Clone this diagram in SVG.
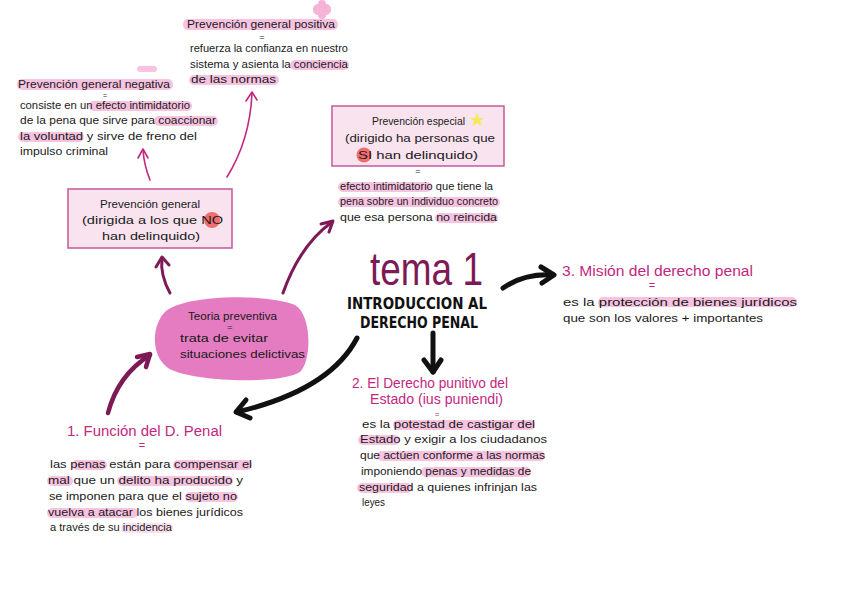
<svg xmlns="http://www.w3.org/2000/svg" width="848" height="599" viewBox="0 0 848 599">
<defs>
<style>
.t{font-family:"Liberation Sans",Arial,sans-serif;font-size:11px;fill:#1a1a1a;}
.h{font-family:"Liberation Sans",Arial,sans-serif;font-size:14px;fill:#c2287e;}
.eq{font-family:"Liberation Sans",Arial,sans-serif;font-size:9px;fill:#1a1a1a;text-anchor:middle;}
.eqm{font-family:"Liberation Sans",Arial,sans-serif;font-size:11px;fill:#c2287e;text-anchor:middle;}
.hl{fill:#f8c3e1;}
.box{fill:#f8e3ee;stroke:#c35a9b;stroke-width:1.5;}
.thin{fill:none;stroke:#c2287e;stroke-width:1.6;stroke-linecap:round;stroke-linejoin:round;}
.dark{fill:none;stroke:#7d1a55;stroke-width:3;stroke-linecap:round;stroke-linejoin:round;}
.darkb{fill:none;stroke:#7d1a55;stroke-width:4.5;stroke-linecap:round;stroke-linejoin:round;}
.blk{fill:none;stroke:#111;stroke-width:5;stroke-linecap:round;stroke-linejoin:round;}
</style>
</defs>
<rect width="848" height="599" fill="#ffffff"/>

<g id="connectors">
<path class="thin" d="M150,180 Q144,165 143,150"/>
<path class="thin" d="M138,158 L143,149 L148,158"/>
<path class="thin" d="M227,177 Q250,140 252,93"/>
<path class="thin" d="M246,101 L252,92 L257,100"/>
<path class="dark" d="M170,293 Q160,275 162,258"/>
<path class="dark" d="M156,267 L162,257 L169,265"/>
<path class="dark" d="M283,293 Q300,245 332,222"/>
<path class="dark" d="M321,224 L333,221 L329,232"/>
<path class="darkb" d="M108,413 Q118,375 150,355"/>
<path class="darkb" d="M137,357 L150,354 L146,367"/>
<path class="blk" d="M357,338 Q330,390 237,412"/>
<path class="blk" d="M246,400 L236,412 L250,418"/>
<path class="blk" d="M433,333 L433,372"/>
<path class="blk" d="M424,360 L433,372 L441,360"/>
<path class="blk" d="M503,288 Q525,273 553,275"/>
<path class="blk" d="M541,267 L554,275 L542,283"/>
</g>

<g id="prev-general-positiva">
<rect x="313" y="4" width="18" height="11" rx="5" fill="#f6b3d6"/>
<rect x="318" y="0" width="8" height="19" rx="4" fill="#f6b3d6"/>
<rect class="hl" x="183" y="19" width="155" height="11" rx="5"/>
<text class="t" x="187" y="28" textLength="148" lengthAdjust="spacingAndGlyphs">Prevención general positiva</text>
<text class="eq" x="262" y="40">=</text>
<text class="t" x="190" y="52" textLength="158" lengthAdjust="spacingAndGlyphs">refuerza la confianza en nuestro</text>
<rect class="hl" x="290" y="60" width="59" height="10" rx="5"/>
<text class="t" x="190" y="68" textLength="158" lengthAdjust="spacingAndGlyphs">sistema y asienta la conciencia</text>
<rect class="hl" x="189" y="75" width="90" height="10" rx="5"/>
<text class="t" x="191" y="83" textLength="85" lengthAdjust="spacingAndGlyphs">de las normas</text>
</g>

<g id="prev-general-negativa">
<rect class="hl" x="137" y="66" width="20" height="6" rx="3"/>
<rect class="hl" x="17" y="79" width="156" height="11" rx="5"/>
<text class="t" x="18" y="88" textLength="152" lengthAdjust="spacingAndGlyphs">Prevención general negativa</text>
<text x="105" y="97.5" style="font-family:'Liberation Sans',Arial,sans-serif;font-size:7px;fill:#1a1a1a;text-anchor:middle;">=</text>
<rect class="hl" x="89" y="101" width="103" height="10" rx="5"/>
<text class="t" x="20" y="109" textLength="170" lengthAdjust="spacingAndGlyphs">consiste en un efecto intimidatorio</text>
<rect class="hl" x="154" y="116" width="64" height="10" rx="5"/>
<text class="t" x="20" y="124" textLength="196" lengthAdjust="spacingAndGlyphs">de la pena que sirve para coaccionar</text>
<rect class="hl" x="18" y="132" width="66" height="10" rx="5"/>
<text class="t" x="20" y="140" textLength="177" lengthAdjust="spacingAndGlyphs">la voluntad y sirve de freno del</text>
<text class="t" x="20" y="155" textLength="88" lengthAdjust="spacingAndGlyphs">impulso criminal</text>
</g>

<g id="prev-general">
<rect class="box" x="68" y="189" width="164" height="59"/>
<text class="t" x="100" y="208" textLength="100" lengthAdjust="spacingAndGlyphs">Prevención general</text>
<circle cx="212" cy="220" r="8" fill="#f26d6d"/>
<text class="t" x="82" y="224" textLength="141" lengthAdjust="spacingAndGlyphs">(dirigida a los que NO</text>
<text class="t" x="102" y="240" textLength="98" lengthAdjust="spacingAndGlyphs">han delinquido)</text>
</g>

<g id="prev-especial">
<rect class="box" x="332" y="106" width="172" height="60"/>
<text class="t" x="372" y="125" textLength="93" lengthAdjust="spacingAndGlyphs">Prevención especial</text>
<path d="M477,113 L479,118 L484,118 L480,121 L482,126 L477,123 L472,126 L474,121 L470,118 L475,118 Z" fill="#f5ea5a"/>
<text class="t" x="345" y="142" textLength="150" lengthAdjust="spacingAndGlyphs">(dirigido ha personas que</text>
<circle cx="364" cy="155" r="7.5" fill="#f26d6d"/>
<text class="t" x="358" y="159" textLength="120" lengthAdjust="spacingAndGlyphs">SI han delinquido)</text>
<text class="eq" x="418" y="174">=</text>
<rect class="hl" x="338" y="182" width="94" height="10" rx="5"/>
<text class="t" x="340" y="190" textLength="153" lengthAdjust="spacingAndGlyphs">efecto intimidatorio que tiene la</text>
<rect class="hl" x="338" y="197" width="162" height="10" rx="5"/>
<text class="t" x="340" y="205" textLength="158" lengthAdjust="spacingAndGlyphs">pena sobre un individuo concreto</text>
<rect class="hl" x="435" y="213" width="63" height="10" rx="5"/>
<text class="t" x="340" y="221" textLength="157" lengthAdjust="spacingAndGlyphs">que esa persona no reincida</text>
</g>

<g id="tema1">
<text x="370" y="285" textLength="113" lengthAdjust="spacingAndGlyphs" style="font-family:'Liberation Sans',Arial,sans-serif;font-size:47px;fill:#7d1a55;">tema 1</text>
<text x="347" y="309" textLength="140" lengthAdjust="spacingAndGlyphs" style="font-family:'DejaVu Sans Condensed','DejaVu Sans',sans-serif;font-size:16px;font-weight:bold;fill:#111;">INTRODUCCION AL</text>
<text x="360" y="328" textLength="118" lengthAdjust="spacingAndGlyphs" style="font-family:'DejaVu Sans Condensed','DejaVu Sans',sans-serif;font-size:16px;font-weight:bold;fill:#111;">DERECHO PENAL</text>
</g>

<g id="mision">
<text class="h" x="562" y="276" textLength="191" lengthAdjust="spacingAndGlyphs">3. Misión del derecho penal</text>
<text class="eqm" x="652" y="289">=</text>
<rect class="hl" x="598" y="297" width="199" height="10" rx="5"/>
<text class="t" x="563" y="306" textLength="234" lengthAdjust="spacingAndGlyphs">es la protección de bienes jurídicos</text>
<text class="t" x="563" y="322" textLength="200" lengthAdjust="spacingAndGlyphs">que son los valores + importantes</text>
</g>

<g id="teoria-preventiva">
<path d="M165,312 C180,296 260,292 295,305 C312,315 312,360 300,372 C280,385 190,382 168,368 C150,355 152,325 165,312 Z" fill="#e57cc1"/>
<text class="t" x="188" y="320" textLength="89" lengthAdjust="spacingAndGlyphs">Teoria preventiva</text>
<text class="eq" x="230" y="330">=</text>
<text class="t" x="180" y="342" textLength="88" lengthAdjust="spacingAndGlyphs">trata de evitar</text>
<text class="t" x="180" y="358" textLength="125" lengthAdjust="spacingAndGlyphs">situaciones delictivas</text>
</g>

<g id="derecho-punitivo">
<text class="h" x="352" y="388" textLength="156" lengthAdjust="spacingAndGlyphs">2. El Derecho punitivo del</text>
<text class="h" x="370" y="404" textLength="133" lengthAdjust="spacingAndGlyphs">Estado (ius puniendi)</text>
<text x="437" y="416.5" style="font-family:'Liberation Sans',Arial,sans-serif;font-size:8px;fill:#c2287e;text-anchor:middle;">=</text>
<rect class="hl" x="393" y="420" width="142" height="10" rx="5"/>
<text class="t" x="362" y="428" textLength="173" lengthAdjust="spacingAndGlyphs">es la potestad de castigar del</text>
<rect class="hl" x="358" y="435" width="42" height="10" rx="5"/>
<text class="t" x="360" y="443" textLength="187" lengthAdjust="spacingAndGlyphs">Estado y exigir a los ciudadanos</text>
<rect class="hl" x="377" y="451" width="168" height="10" rx="5"/>
<text class="t" x="360" y="459" textLength="185" lengthAdjust="spacingAndGlyphs">que actúen conforme a las normas</text>
<rect class="hl" x="421" y="467" width="110" height="10" rx="5"/>
<text class="t" x="361" y="475" textLength="170" lengthAdjust="spacingAndGlyphs">imponiendo penas y medidas de</text>
<rect class="hl" x="357" y="483" width="55" height="10" rx="5"/>
<text class="t" x="359" y="491" textLength="178" lengthAdjust="spacingAndGlyphs">seguridad a quienes infrinjan las</text>
<text class="t" x="362" y="506" textLength="23" lengthAdjust="spacingAndGlyphs">leyes</text>
</g>

<g id="funcion">
<text class="h" x="67" y="436" textLength="155" lengthAdjust="spacingAndGlyphs">1. Función del D. Penal</text>
<text class="eqm" x="142" y="449">=</text>
<rect class="hl" x="72" y="460" width="35" height="10" rx="5"/>
<rect class="hl" x="173" y="460" width="79" height="10" rx="5"/>
<text class="t" x="50" y="468" textLength="202" lengthAdjust="spacingAndGlyphs">las penas están para compensar el</text>
<rect class="hl" x="47" y="476" width="26" height="10" rx="5"/>
<rect class="hl" x="117" y="476" width="116" height="10" rx="5"/>
<text class="t" x="48" y="484" textLength="195" lengthAdjust="spacingAndGlyphs">mal que un delito ha producido y</text>
<rect class="hl" x="185" y="492" width="53" height="10" rx="5"/>
<text class="t" x="49" y="500" textLength="188" lengthAdjust="spacingAndGlyphs">se imponen para que el sujeto no</text>
<rect class="hl" x="47" y="508" width="91" height="10" rx="5"/>
<text class="t" x="48" y="516" textLength="195" lengthAdjust="spacingAndGlyphs">vuelva a atacar los bienes jurídicos</text>
<rect class="hl" x="121" y="523" width="52" height="10" rx="5" opacity="0.5"/>
<text class="t" x="50" y="531" textLength="122" lengthAdjust="spacingAndGlyphs">a través de su incidencia</text>
</g>
</svg>
